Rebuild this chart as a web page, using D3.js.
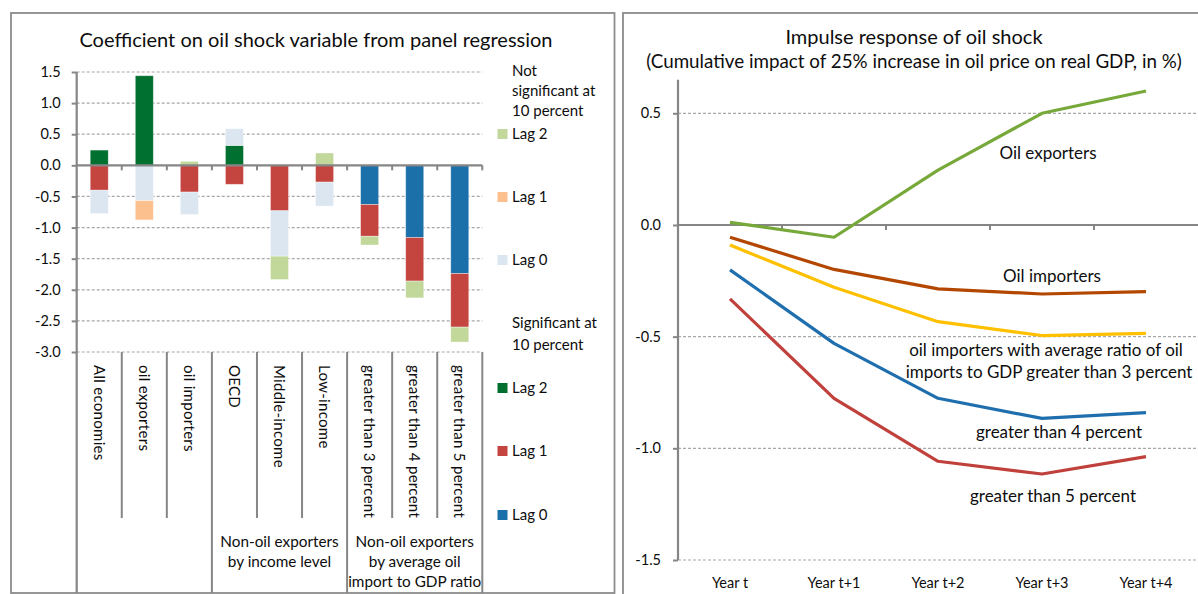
<!DOCTYPE html>
<html lang="en">
<head>
<meta charset="UTF-8">
<title>Oil shock</title>
<script src="https://d3js.org/d3.v7.min.js"></script>
<style>
  body { margin: 0; background: #fff; }
  text { font-family: Lato, "Open Sans", sans-serif; fill: #0d0d0d; }
</style>
</head>
<body>
<script>
// ---- left panel data: coefficient on oil shock variable ----
var categories = ["All economies", "oil exporters", "oil importers", "OECD", "Middle-income",
                  "Low-income", "greater than 3 percent", "greater than 4 percent", "greater than 5 percent"];
var sigLag0 = [0, 0, 0, 0, 0, 0, -0.63, -1.16, -1.74];
var sigLag1 = [-0.40, 0, -0.43, -0.305, -0.73, -0.27, -0.51, -0.70, -0.86];
var sigLag2 = [0.245, 1.44, 0, 0.32, 0, 0, 0, 0, 0];
var nsLag0 = [-0.375, -0.567, -0.36, 0.268, -0.73, -0.385, 0, 0, 0];
var nsLag1 = [0, -0.31, 0, 0, 0, 0, 0, 0, 0];
var nsLag2 = [0, 0, 0.064, 0, -0.375, 0.198, -0.14, -0.27, -0.24];
var leftTicks = [1.5, 1.0, 0.5, 0.0, -0.5, -1.0, -1.5, -2.0, -2.5, -3.0];
var groups = [
  { from: 3, to: 6, lines: ["Non-oil exporters", "by income level"] },
  { from: 6, to: 9, lines: ["Non-oil exporters", "by average oil", "import to GDP ratio"] }
];

// ---- right panel data: impulse response ----
var years = ["Year t", "Year t+1", "Year t+2", "Year t+3", "Year t+4"];
var oilExporters = [0.012, -0.055, 0.246, 0.50, 0.60];
var oilImporters = [-0.055, -0.199, -0.286, -0.309, -0.298];
var gt3 = [-0.09, -0.279, -0.433, -0.495, -0.485];
var gt4 = [-0.201, -0.53, -0.776, -0.866, -0.84];
var gt5 = [-0.331, -0.776, -1.058, -1.115, -1.037];
var rightTicks = [0.5, 0.0, -0.5, -1.0, -1.5];

var W = 1198, H = 594;
var svg = d3.select('body').append('svg').attr('width', W).attr('height', H);
var axisCol = '#868686', gridCol = '#a8a8a8', frameCol = '#8c8c8c';

// frames
svg.append('rect').attr('x', 11).attr('y', 13).attr('width', 603.5).attr('height', 580)
  .attr('fill', 'none').attr('stroke', frameCol).attr('stroke-width', 1.8);
svg.append('rect').attr('x', 623).attr('y', 13).attr('width', 600).attr('height', 600)
  .attr('fill', 'none').attr('stroke', frameCol).attr('stroke-width', 1.8);

// ================= LEFT PANEL =================
var L = svg.append('g');
var x = d3.scaleBand().domain(categories).range([76.7, 482.3]).paddingInner(0.6).paddingOuter(0.3);
var y = d3.scaleLinear().domain([-3, 1.5]).range([352, 72]);
var step = x.step(), x0 = 76.7;

L.append('text').attr('x', 316).attr('y', 47).attr('text-anchor', 'middle')
  .style('font-size', '20px').text('Coefficient on oil shock variable from panel regression');

// gridlines
L.selectAll('.grid').data(leftTicks.filter(function (d) { return d !== 0; })).join('line')
  .attr('x1', x0).attr('x2', 482.3)
  .attr('y1', function (d) { return y(d); }).attr('y2', function (d) { return y(d); })
  .attr('stroke', gridCol).attr('stroke-width', 1.2).attr('stroke-dasharray', '3,2');

// stacked bars
var keys = ['sigLag0', 'sigLag1', 'sigLag2', 'nsLag0', 'nsLag1', 'nsLag2'];
var colors = { sigLag0: '#1b70aa', sigLag1: '#c4443f', sigLag2: '#007030',
               nsLag0: '#dbe6f1', nsLag1: '#fcbf8e', nsLag2: '#c2d89b' };
var series = { sigLag0: sigLag0, sigLag1: sigLag1, sigLag2: sigLag2, nsLag0: nsLag0, nsLag1: nsLag1, nsLag2: nsLag2 };
var rows = categories.map(function (c, i) {
  var r = { cat: c };
  keys.forEach(function (k) { r[k] = series[k][i]; });
  return r;
});
var stacked = d3.stack().keys(keys).offset(d3.stackOffsetDiverging)(rows);
L.selectAll('g.layer').data(stacked).join('g').attr('class', 'layer')
  .attr('fill', function (d) { return colors[d.key]; })
  .selectAll('rect').data(function (d) { return d; }).join('rect')
  .attr('x', function (d) { return x(d.data.cat); })
  .attr('width', x.bandwidth())
  .attr('y', function (d) { return y(Math.max(d[0], d[1])); })
  .attr('height', function (d) { return Math.abs(y(d[0]) - y(d[1])); })
  .attr('stroke', '#fff').attr('stroke-opacity', 0.45).attr('stroke-width', 0.8);

// zero axis with ticks
L.append('line').attr('x1', x0).attr('x2', 482.3).attr('y1', y(0)).attr('y2', y(0))
  .attr('stroke', axisCol).attr('stroke-width', 2.2);
L.selectAll('.ztick').data(d3.range(1, 10)).join('line')
  .attr('x1', function (i) { return x0 + i * step; }).attr('x2', function (i) { return x0 + i * step; })
  .attr('y1', y(0)).attr('y2', y(0) + 5).attr('stroke', axisCol).attr('stroke-width', 2);

// y axis
var yAxis = d3.axisLeft(y).tickValues(leftTicks).tickSize(5).tickPadding(11)
  .tickFormat(function (d) { return d.toFixed(1); });
var ya = L.append('g').attr('transform', 'translate(' + x0 + ',0)').call(yAxis);
ya.select('.domain').remove();
ya.selectAll('line').attr('stroke', axisCol).attr('stroke-width', 2);
ya.selectAll('text').style('font-size', '14.5px').style('font-family', 'Lato').attr('fill', '#0d0d0d');
L.append('line').attr('x1', x0).attr('x2', x0).attr('y1', y(1.5)).attr('y2', 593)
  .attr('stroke', axisCol).attr('stroke-width', 2.2);

// category separators (multi-level axis)
var longSep = [3, 6, 9];
L.selectAll('.sep').data(d3.range(1, 10)).join('line')
  .attr('x1', function (i) { return x0 + i * step; }).attr('x2', function (i) { return x0 + i * step; })
  .attr('y1', y(-3)).attr('y2', function (i) { return longSep.indexOf(i) >= 0 ? 593 : 518; })
  .attr('stroke', axisCol).attr('stroke-width', 2);

// rotated category labels
L.selectAll('.clab').data(categories).join('text')
  .attr('transform', function (d) { return 'translate(' + (x(d) + x.bandwidth() / 2) + ',365) rotate(90)'; })
  .attr('dy', '0.36em').style('font-size', '15px').style('letter-spacing', '0.3px').text(function (d) { return d; });

// group labels
groups.forEach(function (g) {
  var cx = x0 + (g.from + g.to) / 2 * step;
  g.lines.forEach(function (t, j) {
    L.append('text').attr('x', cx).attr('y', 542 + j * 20).attr('dy', '0.35em')
      .attr('text-anchor', 'middle').style('font-size', '15.3px').text(t);
  });
});

// legend
var legX = 512;
[['Not', 71], ['significant at', 91], ['10 percent', 111], ['Significant at', 323], ['10 percent', 345]]
  .forEach(function (t) {
    L.append('text').attr('x', legX).attr('y', t[1]).attr('dy', '0.35em').style('font-size', '15px').text(t[0]);
  });
var legItems = [['nsLag2', 'Lag 2', 134], ['nsLag1', 'Lag 1', 197], ['nsLag0', 'Lag 0', 260],
                ['sigLag2', 'Lag 2', 388], ['sigLag1', 'Lag 1', 451], ['sigLag0', 'Lag 0', 515]];
legItems.forEach(function (it) {
  L.append('rect').attr('x', 497.5).attr('y', it[2] - 5).attr('width', 10).attr('height', 10).attr('fill', colors[it[0]]);
  L.append('text').attr('x', legX).attr('y', it[2]).attr('dy', '0.35em').style('font-size', '15px').text(it[1]);
});

// ================= RIGHT PANEL =================
var R = svg.append('g');
var xr = d3.scaleBand().domain(years).range([678, 1198]);
var yr = d3.scaleLinear().domain([-1.5, 0.65]).range([560, 79.8]);

R.append('text').attr('x', 914).attr('y', 44).attr('text-anchor', 'middle').style('font-size', '20px')
  .text('Impulse response of oil shock');
R.append('text').attr('x', 914).attr('y', 68).attr('text-anchor', 'middle').style('font-size', '18.8px')
  .text('(Cumulative impact of 25% increase in oil price on real GDP, in %)');

R.selectAll('.grid').data(rightTicks.filter(function (d) { return d !== 0; })).join('line')
  .attr('x1', 678).attr('x2', 1198)
  .attr('y1', function (d) { return yr(d); }).attr('y2', function (d) { return yr(d); })
  .attr('stroke', gridCol).attr('stroke-width', 1.2).attr('stroke-dasharray', '3,2');

R.append('line').attr('x1', 678).attr('x2', 1198).attr('y1', yr(0)).attr('y2', yr(0))
  .attr('stroke', axisCol).attr('stroke-width', 2.2);
R.selectAll('.ztick').data(d3.range(1, 5)).join('line')
  .attr('x1', function (i) { return 678 + i * xr.step(); }).attr('x2', function (i) { return 678 + i * xr.step(); })
  .attr('y1', yr(0)).attr('y2', yr(0) + 5).attr('stroke', axisCol).attr('stroke-width', 2);

var yrAxis = d3.axisLeft(yr).tickValues(rightTicks).tickSize(5).tickPadding(12)
  .tickFormat(function (d) { return d.toFixed(1); });
var yra = R.append('g').attr('transform', 'translate(678,0)').call(yrAxis);
yra.select('.domain').remove();
yra.selectAll('line').attr('stroke', axisCol).attr('stroke-width', 2);
yra.selectAll('text').style('font-size', '14.5px').style('font-family', 'Lato').attr('fill', '#0d0d0d');
R.append('line').attr('x1', 678).attr('x2', 678).attr('y1', yr(0.65)).attr('y2', yr(-1.5))
  .attr('stroke', axisCol).attr('stroke-width', 2.2);

R.selectAll('.ylab').data(years).join('text')
  .attr('x', function (d) { return xr(d) + xr.bandwidth() / 2; }).attr('y', 583).attr('dy', '0.35em')
  .attr('text-anchor', 'middle').style('font-size', '14.5px').text(function (d) { return d; });

var lines = [
  { vals: gt5, color: '#c0413c' },
  { vals: gt4, color: '#1f6fae' },
  { vals: gt3, color: '#ffc000' },
  { vals: oilImporters, color: '#b34700' },
  { vals: oilExporters, color: '#77a83a' }
];
var lineGen = d3.line()
  .x(function (d, i) { return xr(years[i]) + xr.bandwidth() / 2; })
  .y(function (d) { return yr(d); });
R.selectAll('path.series').data(lines).join('path').attr('class', 'series')
  .attr('d', function (d) { return lineGen(d.vals); })
  .attr('fill', 'none').attr('stroke', function (d) { return d.color; })
  .attr('stroke-width', 3.2).attr('stroke-linejoin', 'round');

var labels = [
  ['Oil exporters', 1048, 153],
  ['Oil importers', 1052, 276],
  ['oil importers with average ratio of oil', 1046, 350],
  ['imports to GDP greater than 3 percent', 1049, 372],
  ['greater than 4 percent', 1059, 432],
  ['greater than 5 percent', 1053, 496]
];
labels.forEach(function (l) {
  R.append('text').attr('x', l[1]).attr('y', l[2]).attr('dy', '0.35em').attr('text-anchor', 'middle')
    .style('font-size', '17px').text(l[0]);
});
</script>
</body>
</html>
